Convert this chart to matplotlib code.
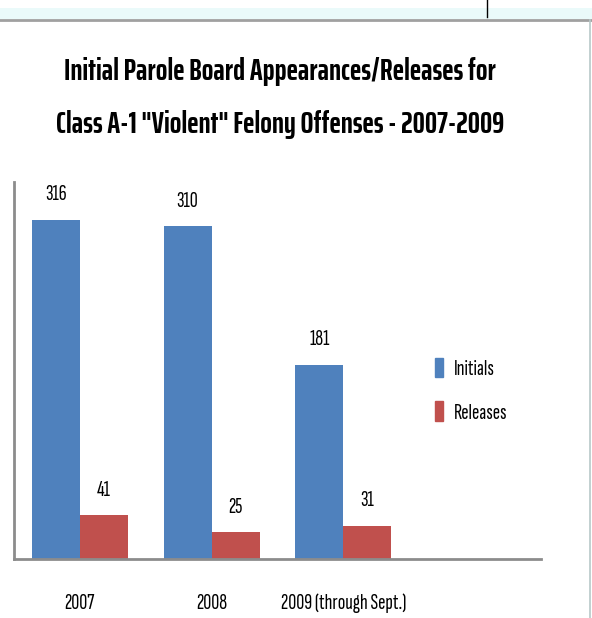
import matplotlib
matplotlib.use('Agg')
import matplotlib.pyplot as plt
import matplotlib.patches as mpatches
from matplotlib.lines import Line2D
import numpy as np

# data
categories = ['2007', '2008', '2009 (through Sept.)']
initials = [316, 310, 181]
releases = [41, 25, 31]
series_names = ['Initials', 'Releases']

BLUE = '#4F81BD'
RED = '#C0504D'
TITLE_FONT = ['Saira ExtraCondensed', 'DejaVu Sans']
FONT = ['Sofia Sans Extra Condensed', 'DejaVu Sans']
LBL = 16

fig = plt.figure(figsize=(5.92, 6.18), dpi=100)
fig.patch.set_facecolor('white')

# window chrome at the top and right edge
fig.add_artist(mpatches.Rectangle((0.0, 1 - 19 / 618), 1.0, 11 / 618,
                                  transform=fig.transFigure, facecolor='#eafafa',
                                  edgecolor='none'))
fig.add_artist(Line2D([0.0, 1.0], [1 - 19.5 / 618] * 2, transform=fig.transFigure,
                      color='#a0a0a0', lw=2))
fig.add_artist(Line2D([487 / 592] * 2, [1 - 17 / 618, 1.0], transform=fig.transFigure,
                      color='black', lw=1))
fig.add_artist(Line2D([589.5 / 592] * 2, [0.0, 1 - 20 / 618], transform=fig.transFigure,
                      color='#b8c8c8', lw=1.2))

ax = fig.add_axes([14 / 592, 59 / 618, 527 / 592, 377 / 618])
x = np.arange(len(categories))
w = 0.365
b1 = ax.bar(x - w / 2, initials, w, color=BLUE, label=series_names[0])
b2 = ax.bar(x + w / 2, releases, w, color=RED, label=series_names[1])

for bars, vals in ((b1, initials), (b2, releases)):
    for bar, v in zip(bars, vals):
        ax.text(bar.get_x() + bar.get_width() / 2, v + 23, str(v),
                ha='center', va='center', fontsize=LBL, family=FONT)

ax.set_xlim(-0.5, 3.5)
ax.set_ylim(0, 351)
ax.set_xticks([])
ax.set_yticks([])
for s in ('top', 'right'):
    ax.spines[s].set_visible(False)
for s in ('left', 'bottom'):
    ax.spines[s].set_color('#8c8c8c')
    ax.spines[s].set_linewidth(2)

for i, c in enumerate(categories):
    ax.text(i, -41, c, ha='center', va='center', fontsize=LBL, family=FONT,
            clip_on=False)

handles = [mpatches.Patch(color=BLUE, label=series_names[0]),
           mpatches.Patch(color=RED, label=series_names[1])]
leg = fig.legend(handles=handles, loc='upper left',
                 bbox_to_anchor=(419 / 592, 1 - 342 / 618),
                 frameon=False, handlelength=0.4, handleheight=1.0,
                 handletextpad=0.45, labelspacing=1.0, borderpad=0.2,
                 prop={'family': FONT, 'size': LBL})

fig.text(0.473, 1 - 72 / 618, 'Initial Parole Board Appearances/Releases for',
         ha='center', va='center', fontsize=22, fontweight='bold', family=TITLE_FONT)
fig.text(0.473, 1 - 124 / 618, 'Class A-1 "Violent" Felony Offenses - 2007-2009',
         ha='center', va='center', fontsize=22, fontweight='bold', family=TITLE_FONT)

fig.savefig('out.png', dpi=100, facecolor='white')
